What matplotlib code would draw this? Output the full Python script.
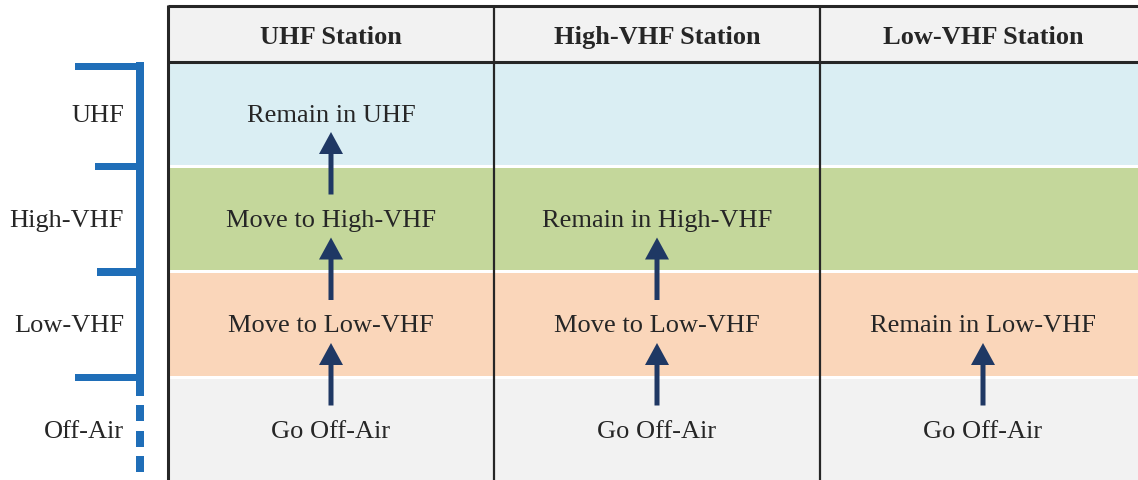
import matplotlib
matplotlib.use("Agg")
import matplotlib.pyplot as plt
from matplotlib.patches import Rectangle, FancyArrow

# ---- data ----
stations = ["UHF Station", "High-VHF Station", "Low-VHF Station"]
bands = ["UHF", "High-VHF", "Low-VHF", "Off-Air"]
uhf_station = ["Remain in UHF", "Move to High-VHF", "Move to Low-VHF", "Go Off-Air"]
highvhf_station = ["", "Remain in High-VHF", "Move to Low-VHF", "Go Off-Air"]
lowvhf_station = ["", "", "Remain in Low-VHF", "Go Off-Air"]
cells = [uhf_station, highvhf_station, lowvhf_station]

# ---- style ----
band_colors = ["#DAEEF3", "#C4D79B", "#FAD6BA", "#F2F2F2"]
header_color = "#F2F2F2"
text_color = "#262626"
arrow_color = "#1F3864"
bracket_color = "#1F6EB8"
line_color = "#262626"
FONT = "Liberation Serif"
FS = 19

W, H = 1138, 481
fig = plt.figure(figsize=(W / 100, H / 100), dpi=100)
ax = fig.add_axes([0, 0, 1, 1])
ax.set_xlim(0, W)
ax.set_ylim(H, 0)
ax.axis("off")

# geometry (pixels)
x0 = 168
col_w = 326
top = 7
head_bot = 62.5
row_top0 = 63
row_step = 105.5
row_h = 102.5
txt_off = 52.5

# header
ax.add_patch(Rectangle((x0, top), W - x0, head_bot - top, facecolor=header_color, edgecolor="none", zorder=1))
for j, s in enumerate(stations):
    ax.text(x0 + col_w * (j + 0.5), (top + head_bot) / 2 + 3, s, ha="center", va="center",
            fontsize=FS, fontweight="bold", family=FONT, color=text_color, zorder=5)

# bands
for i, b in enumerate(bands):
    yt = row_top0 + row_step * i
    h = row_h if i < len(bands) - 1 else H - yt + 2
    ax.add_patch(Rectangle((x0, yt), W - x0, h, facecolor=band_colors[i], edgecolor="none", zorder=1))
    yc = yt + txt_off
    ax.text(124, yc, b, ha="right", va="center", fontsize=FS, family=FONT, color=text_color)

# cell texts and arrows
for j, col in enumerate(cells):
    xc = x0 + col_w * (j + 0.5)
    for i, t in enumerate(col):
        yc = row_top0 + row_step * i + txt_off
        if t:
            ax.text(xc, yc, t, ha="center", va="center", fontsize=FS, family=FONT,
                    color=text_color, zorder=5)
    filled = [i for i, t in enumerate(col) if t]
    for a, b in zip(filled[:-1], filled[1:]):
        y_up = row_top0 + row_step * a + 50 + 20
        y_lo = row_top0 + row_step * b + 50 - 23
        ax.add_patch(FancyArrow(xc, y_lo, 0, y_up - y_lo, width=5, head_width=24,
                                head_length=22, length_includes_head=True,
                                color=arrow_color, linewidth=0, zorder=4))

# table lines
ax.plot([x0, W], [top, top], color=line_color, lw=2.2, zorder=6, solid_capstyle="butt")
ax.plot([x0, W], [head_bot, head_bot], color=line_color, lw=2.2, zorder=6, solid_capstyle="butt")
for j in range(len(stations)):
    xx = x0 + col_w * j
    ax.plot([xx, xx], [top - 1, H + 2], color=line_color, lw=1.6 if j else 2.2, zorder=6,
            solid_capstyle="butt")

# left bracket
vx0, vx1 = 136, 144
bounds = [67] + [row_top0 + row_step * i - 1.5 for i in range(1, len(bands))]
tick_starts = [75, 95, 97, 75]
ax.add_patch(Rectangle((vx0, bounds[0] - 4), vx1 - vx0, 397 - bounds[0] + 4, facecolor=bracket_color,
                       edgecolor="none"))
for yb, xs in zip(bounds, tick_starts):
    ax.add_patch(Rectangle((xs, yb - 3.5), vx1 - xs, 7.5, facecolor=bracket_color, edgecolor="none"))
for d0 in [406, 432, 457]:
    ax.add_patch(Rectangle((vx0, d0), vx1 - vx0, 16, facecolor=bracket_color, edgecolor="none"))

fig.savefig("out.png", dpi=100)
